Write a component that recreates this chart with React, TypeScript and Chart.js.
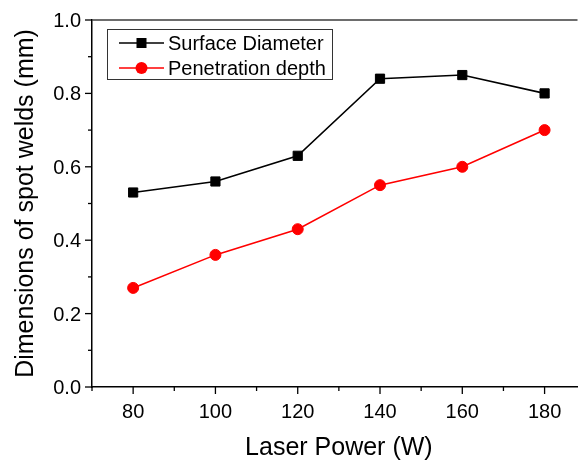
import React, { useEffect, useRef } from "react";
import { Chart, registerables } from "chart.js";

Chart.register(...registerables);

const laserPower = [80, 100, 120, 140, 160, 180];
const surfaceDiameter = [0.53, 0.56, 0.63, 0.84, 0.85, 0.8];
const penetrationDepth = [0.27, 0.36, 0.43, 0.55, 0.6, 0.7];

const xMajorTicks = [80, 100, 120, 140, 160, 180];
const xAllTicks = [70, 80, 90, 100, 110, 120, 130, 140, 150, 160, 170, 180];
const yMajorTicks = [0, 0.2, 0.4, 0.6, 0.8, 1.0];
const yAllTicks = [0, 0.1, 0.2, 0.3, 0.4, 0.5, 0.6, 0.7, 0.8, 0.9, 1.0];

const xTitle = "Laser Power (W)";
const yTitle = "Dimensions of spot welds (mm)";
const seriesNames = ["Surface Diameter", "Penetration depth"];

const FONT = 'Arial, "Liberation Sans", sans-serif';

const decorPlugin = {
  id: "decor",
  afterDraw(chart: any) {
    const ctx = chart.ctx as CanvasRenderingContext2D;
    const xs = chart.scales.x;
    const ys = chart.scales.y;
    const { left, right, top, bottom } = chart.chartArea;
    ctx.save();
    ctx.strokeStyle = "#3c3c3c";
    ctx.lineWidth = 1.5;
    ctx.beginPath();
    ctx.moveTo(left, top);
    ctx.lineTo(right, top);
    ctx.stroke();

    ctx.strokeStyle = "#000";
    ctx.lineWidth = 1.3;
    for (const v of xAllTicks) {
      const px = xs.getPixelForValue(v);
      const len = xMajorTicks.includes(v) ? 7 : 4;
      ctx.beginPath();
      ctx.moveTo(px, bottom);
      ctx.lineTo(px, bottom + len);
      ctx.stroke();
    }
    for (const v of yAllTicks) {
      const py = ys.getPixelForValue(v);
      const major = yMajorTicks.some((m) => Math.abs(m - v) < 1e-9);
      const len = major ? 7 : 4;
      ctx.beginPath();
      ctx.moveTo(left, py);
      ctx.lineTo(left - len, py);
      ctx.stroke();
    }

    ctx.fillStyle = "#000";
    ctx.font = `20px ${FONT}`;
    ctx.textBaseline = "alphabetic";
    ctx.textAlign = "center";
    for (const v of xMajorTicks) {
      const px = xs.getPixelForValue(v);
      ctx.fillText(String(v), px, 418);
    }
    ctx.textAlign = "right";
    for (const v of yMajorTicks) {
      const py = ys.getPixelForValue(v);
      ctx.fillText(v.toFixed(1), 81, py + 7);
    }

    ctx.font = `25px ${FONT}`;
    ctx.textAlign = "center";
    ctx.fillText(xTitle, xs.getPixelForValue(130), 455);
    ctx.save();
    ctx.translate(33, ys.getPixelForValue(0.5));
    ctx.rotate(-Math.PI / 2);
    ctx.fillText(yTitle, 0, 0);
    ctx.restore();

    const bx = 107, by = 29, bw = 225, bh = 50;
    ctx.strokeStyle = "#333";
    ctx.lineWidth = 1;
    ctx.strokeRect(bx + 0.5, by + 0.5, bw, bh);
    const rows = [43, 68];
    chart.data.datasets.forEach((ds: any, i: number) => {
      const ry = rows[i];
      ctx.strokeStyle = ds.borderColor;
      ctx.lineWidth = 1.5;
      ctx.beginPath();
      ctx.moveTo(119, ry);
      ctx.lineTo(164, ry);
      ctx.stroke();
      ctx.fillStyle = ds.backgroundColor;
      const mx = 141.5;
      if (ds.pointStyle === "rect") {
        ctx.fillRect(mx - 5, ry - 5, 10, 10);
      } else {
        ctx.beginPath();
        ctx.arc(mx, ry, 6, 0, Math.PI * 2);
        ctx.fill();
      }
      ctx.fillStyle = "#000";
      ctx.font = `20px ${FONT}`;
      ctx.textAlign = "left";
      ctx.fillText(ds.label, 168, ry + 7);
    });
    ctx.restore();
  },
};

export default function App() {
  const ref = useRef<HTMLCanvasElement | null>(null);
  useEffect(() => {
    if (!ref.current) return;
    const chart = new Chart(ref.current, {
      type: "line",
      data: {
        datasets: [
          {
            label: seriesNames[0],
            data: laserPower.map((x, i) => ({ x, y: surfaceDiameter[i] })),
            borderColor: "#000000",
            backgroundColor: "#000000",
            borderWidth: 1.6,
            pointStyle: "rect",
            pointRadius: 6.5,
            pointBorderWidth: 1,
            tension: 0,
          },
          {
            label: seriesNames[1],
            data: laserPower.map((x, i) => ({ x, y: penetrationDepth[i] })),
            borderColor: "#ff0000",
            backgroundColor: "#ff0000",
            borderWidth: 1.6,
            pointStyle: "circle",
            pointRadius: 5.5,
            pointBorderWidth: 1,
            tension: 0,
          },
        ],
      },
      options: {
        responsive: false,
        animation: false,
        layout: { padding: { top: 20, left: 0, right: 0, bottom: 0 } },
        plugins: { legend: { display: false }, tooltip: { enabled: false } },
        scales: {
          x: {
            type: "linear",
            min: 70,
            max: 188,
            grid: { display: false },
            ticks: { display: false },
            border: { display: true, color: "#000", width: 1.5 },
            afterFit: (s: any) => {
              s.height = 75;
            },
          },
          y: {
            type: "linear",
            min: 0,
            max: 1,
            grid: { display: false },
            ticks: { display: false },
            border: { display: true, color: "#000", width: 1.5 },
            afterFit: (s: any) => {
              s.width = 92;
            },
          },
        },
      },
      plugins: [decorPlugin],
    });
    return () => chart.destroy();
  }, []);
  return (
    <div style={{ position: "fixed", left: 0, top: 0, width: 585, height: 462, background: "#fff" }}>
      <canvas ref={ref} width={585} height={462} style={{ display: "block" }} />
    </div>
  );
}
